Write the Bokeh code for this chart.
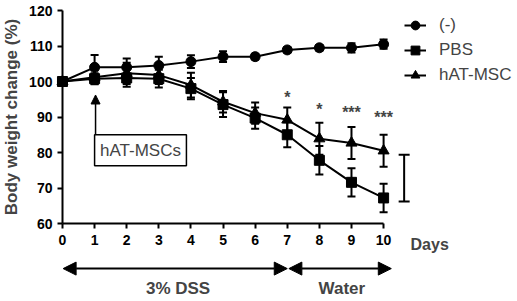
from bokeh.plotting import figure
from bokeh.models import (ColumnDataSource, Whisker, TeeHead, Arrow, NormalHead,
                          Legend, LegendItem, FixedTicker, Range1d, BoxAnnotation, Label)
from bokeh.embed import file_html
from bokeh.resources import INLINE

days = [0, 1, 2, 3, 4, 5, 6, 7, 8, 9, 10]
ctrl = [100, 104, 104, 104.5, 105.6, 107, 107, 108.9, 109.5, 109.5, 110.5]
ctrl_err = [0.5, 3.5, 2.5, 2.5, 1.8, 1.5, 0.8, 0.8, 0.8, 1.3, 1.3]
pbs = [100, 100.8, 101, 100.8, 98, 93.5, 89.7, 85, 77.8, 71.6, 67.2]
pbs_err = [0.5, 1.5, 2.5, 2.5, 3, 3.5, 3, 3.5, 4, 4, 4]
hat = [100, 101.2, 102.3, 101.8, 99, 94.3, 91.1, 89.2, 83.9, 82.7, 80.5]
hat_err = [0.5, 2, 3, 2.5, 3.5, 3, 3, 3.5, 4.5, 4.5, 4.5]
series_names = ["(-)", "PBS", "hAT-MSC"]
sig_days = [7, 8, 9, 10]
sig_labels = ["*", "*", "***", "***"]
sig_y = [95.5, 92.0, 91.2, 89.8]
y_ticks = [60, 70, 80, 90, 100, 110, 120]

FONT = "Liberation Sans"

p = figure(width=517, height=301, output_backend="svg", toolbar_location=None,
           x_range=Range1d(-1.93, 14.17), y_range=Range1d(38.03, 122.82),
           min_border=0)
p.outline_line_color = None
p.grid.visible = False

# axes
xa = p.xaxis[0]
xa.fixed_location = 60
xa.bounds = (0, 10)
xa.ticker = FixedTicker(ticks=days)
ya = p.yaxis[0]
ya.fixed_location = 0
ya.bounds = (60, 120)
ya.ticker = FixedTicker(ticks=y_ticks)
ya.axis_label = "Body weight change (%)"
for ax in (xa, ya):
    ax.axis_line_width = 2
    ax.major_tick_line_width = 2
    ax.major_tick_out = 5
    ax.major_tick_in = 0
    ax.minor_tick_out = 0
    ax.minor_tick_in = 0
    ax.major_label_text_font = FONT
    ax.major_label_text_font_style = "bold"
    ax.major_label_text_font_size = "14px"
    ax.major_label_text_color = "black"
    ax.axis_line_color = "black"
    ax.major_tick_line_color = "black"
xa.major_label_standoff = 6
ya.major_label_standoff = 5
ya.axis_label_text_font = FONT
ya.axis_label_text_font_style = "bold"
ya.axis_label_text_font_size = "17px"
ya.axis_label_standoff = 5

renderers = []
markers = ["circle", "square", "triangle"]
for name, vals, errs, mk in zip(series_names, [ctrl, pbs, hat], [ctrl_err, pbs_err, hat_err], markers):
    src = ColumnDataSource(dict(x=days, y=vals,
                                lo=[v - e for v, e in zip(vals, errs)],
                                hi=[v + e for v, e in zip(vals, errs)]))
    w = Whisker(base="x", upper="hi", lower="lo", source=src, line_width=2, line_color="black",
                upper_head=TeeHead(size=8, line_width=2, line_color="black"),
                lower_head=TeeHead(size=8, line_width=2, line_color="black"))
    p.add_layout(w)
    l = p.line("x", "y", source=src, line_width=2, line_color="black")
    s = p.scatter("x", "y", source=src, marker=mk, size=11 if mk == "triangle" else 10,
                  fill_color="black", line_color="black")
    renderers.append((name, [l, s]))

legend = Legend(items=[LegendItem(label=n, renderers=r) for n, r in renderers],
                location=(404, 214), label_text_font=FONT, label_text_font_size="17px",
                glyph_width=22, glyph_height=24, label_height=24, spacing=1,
                label_standoff=13, padding=0, margin=0, border_line_color=None,
                background_fill_alpha=0)
p.add_layout(legend)

# significance stars
for d, t, yy in zip(sig_days, sig_labels, sig_y):
    p.add_layout(Label(x=d, y=yy, text=t, text_align="center", text_baseline="middle",
                       text_font=FONT, text_font_style="bold", text_font_size="16px"))

# bracket
p.segment(x0=[10.64], y0=[66.2], x1=[10.64], y1=[79.4], line_width=2, line_color="black")
p.scatter(x=[10.64, 10.64], y=[66.2, 79.4], marker="dash", size=11, line_width=2, line_color="black")

# hAT-MSCs box and arrow
p.add_layout(Arrow(x_start=1.03, y_start=85, x_end=1.03, y_end=96.2, line_width=1.5,
                   end=NormalHead(size=9, fill_color="black", line_color="black")))
p.add_layout(BoxAnnotation(left=1.0, right=3.86, top=85, bottom=76.3, fill_color="white",
                           fill_alpha=1, line_color="black", line_width=1.5, line_alpha=1))
p.add_layout(Label(x=2.43, y=80.65, text="hAT-MSCs", text_align="center", text_baseline="middle",
                   text_font=FONT, text_font_size="17px"))

# Days label
p.add_layout(Label(x=10.84, y=54.2, text="Days", text_align="left", text_baseline="middle",
                   text_font=FONT, text_font_style="bold", text_font_size="16px"))

# treatment arrows
p.add_layout(Arrow(x_start=7.0, y_start=47.3, x_end=0.02, y_end=47.3, line_width=2,
                   start=NormalHead(size=13, fill_color="black", line_color="black"),
                   end=NormalHead(size=13, fill_color="black", line_color="black")))
p.add_layout(Arrow(x_start=7.05, y_start=47.3, x_end=10.24, y_end=47.3, line_width=2,
                   start=NormalHead(size=13, fill_color="black", line_color="black"),
                   end=NormalHead(size=13, fill_color="black", line_color="black")))
p.add_layout(Label(x=3.6, y=41.8, text="3% DSS", text_align="center", text_baseline="middle",
                   text_font=FONT, text_font_style="bold", text_font_size="17px"))
p.add_layout(Label(x=8.7, y=41.8, text="Water", text_align="center", text_baseline="middle",
                   text_font=FONT, text_font_style="bold", text_font_size="17px"))

open("out.html", "w").write(file_html(p, INLINE))
